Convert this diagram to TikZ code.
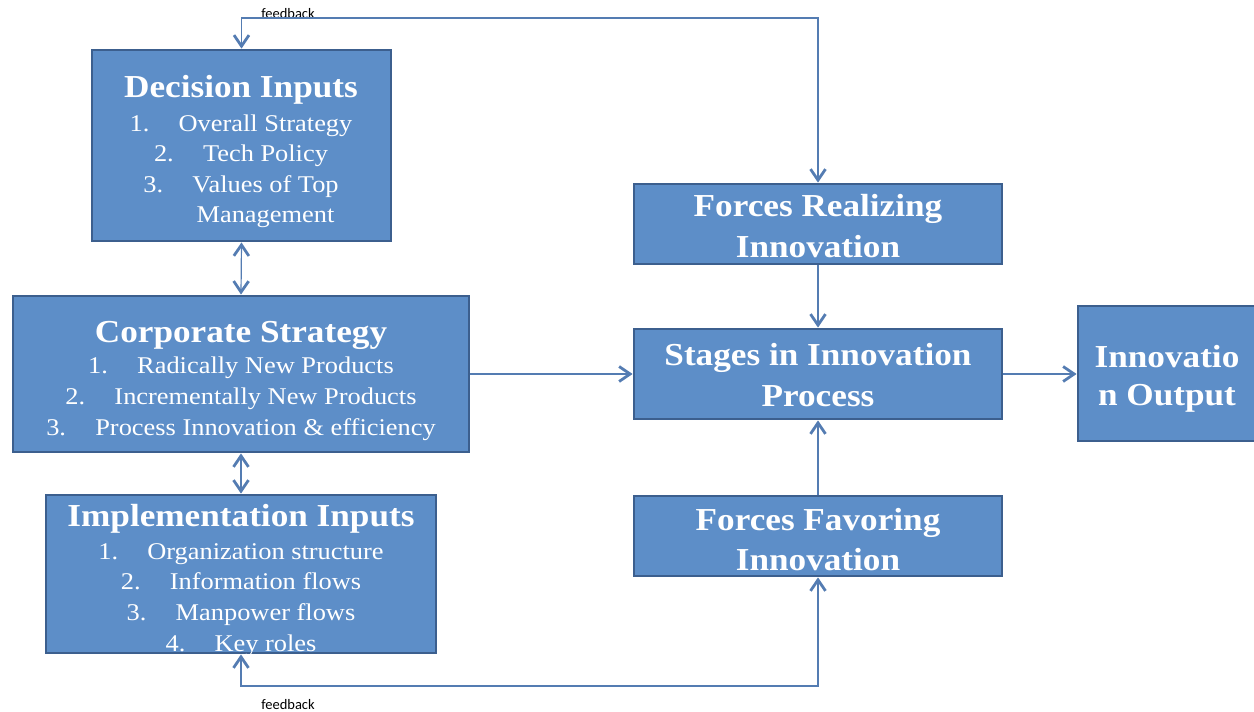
\documentclass[tikz,border=0pt]{standalone}
\usepackage{fontspec}
\usetikzlibrary{arrows.meta}
\newfontfamily\boxserif[FakeStretch=1.1]{Liberation Serif}
\newfontfamily\fbfont{Carlito}
\definecolor{boxfill}{RGB}{93,142,200}
\definecolor{boxline}{RGB}{60,95,142}
\definecolor{connc}{RGB}{84,124,178}
\newcommand{\numbox}[1]{\makebox[49pt][l]{#1}}
\tikzset{
  box/.style={rectangle, draw=boxline, fill=boxfill, line width=2.8pt, inner sep=0pt},
  ttl/.style={text=white, anchor=base, inner sep=0pt, font=\boxserif\bfseries\fontsize{32}{36}\selectfont},
  itm/.style={text=white, anchor=base, inner sep=0pt, font=\boxserif\fontsize{24}{28}\selectfont},
  fbl/.style={text=black, anchor=base, inner sep=0pt, font=\fbfont\fontsize{14.5}{16}\selectfont},
  conn/.style={draw=connc, line width=1.2pt},
  chev/.tip={Straight Barb[length=11pt, width=15pt, line width'=2.8pt]}
}
\begin{document}
\begin{tikzpicture}[x=1pt, y=-1pt]
\useasboundingbox (0,0) rectangle (1254,712);

% boxes
\node[box, minimum width=299pt, minimum height=191pt] (di) at (241.5,145.5) {};
\node[box, minimum width=456pt, minimum height=156pt] (cs) at (241,374) {};
\node[box, minimum width=390pt, minimum height=158pt] (ii) at (241,574) {};
\node[box, minimum width=368pt, minimum height=80pt] (fr) at (818,224) {};
\node[box, minimum width=368pt, minimum height=90pt] (st) at (818,374) {};
\node[box, minimum width=368pt, minimum height=80pt] (ff) at (818,536) {};
\node[box, minimum width=180pt, minimum height=135pt] (io) at (1168,373.5) {};

% Decision Inputs text
\node[ttl] (dit) at (241,97) {Decision Inputs};
\node[itm] (di1) at (241,131) {\numbox{1.}Overall Strategy};
\node[itm] (di2) at (241,161) {\numbox{2.}Tech Policy};
\node[itm] (di3) at (241,192) {\numbox{3.}Values of Top};
\node[itm] (di4) at (241,222) {\numbox{}Management};

% Corporate Strategy text
\node[ttl] (cst) at (241,342) {Corporate Strategy};
\node[itm] (cs1) at (241,373) {\numbox{1.}Radically New Products};
\node[itm] (cs2) at (241,404) {\numbox{2.}Incrementally New Products};
\node[itm] (cs3) at (241,435) {\numbox{3.}Process Innovation \& efficiency};

% Implementation Inputs text
\node[ttl] (iit) at (241,526) {Implementation Inputs};
\node[itm] (ii1) at (241,559) {\numbox{1.}Organization structure};
\node[itm] (ii2) at (241,589) {\numbox{2.}Information flows};
\node[itm] (ii3) at (241,620) {\numbox{3.}Manpower flows};
\node[itm] (ii4) at (241,651) {\numbox{4.}Key roles};

% right column text
\node[ttl] (fr1) at (818,216) {Forces Realizing};
\node[ttl] (fr2) at (818,257) {Innovation};
\node[ttl] (st1) at (818,365) {Stages in Innovation};
\node[ttl] (st2) at (818,406) {Process};
\node[ttl] (ff1) at (818,530) {Forces Favoring};
\node[ttl] (ff2) at (818,570) {Innovation};
\node[ttl] (io1) at (1167,367) {Innovatio};
\node[ttl] (io2) at (1167,405) {n Output};

% feedback labels
\node[fbl] (fbtl) at (288,19) {feedback};
\node[fbl] (fbbl) at (288,709) {feedback};

% connectors
\coordinate (fbt) at (530,18);
\coordinate (fbb) at (530,686);
\draw[conn, chev-chev] (di.south) -- (cs.north);
\draw[conn, chev-chev] (cs.south) -- (ii.north);
\draw[conn, -chev] (cs.east) -- (st.west);
\draw[conn, -chev] (fr.south) -- (st.north);
\draw[conn, -chev] (ff.north) -- (st.south);
\draw[conn, -chev] (st.east) -- (io.west |- st.east);
\draw[conn, chev-chev] (di.north) |- (fbt) -| (fr.north);
\draw[conn, chev-chev] (ii.south) |- (fbb) -| (ff.south);
\end{tikzpicture}
\end{document}
